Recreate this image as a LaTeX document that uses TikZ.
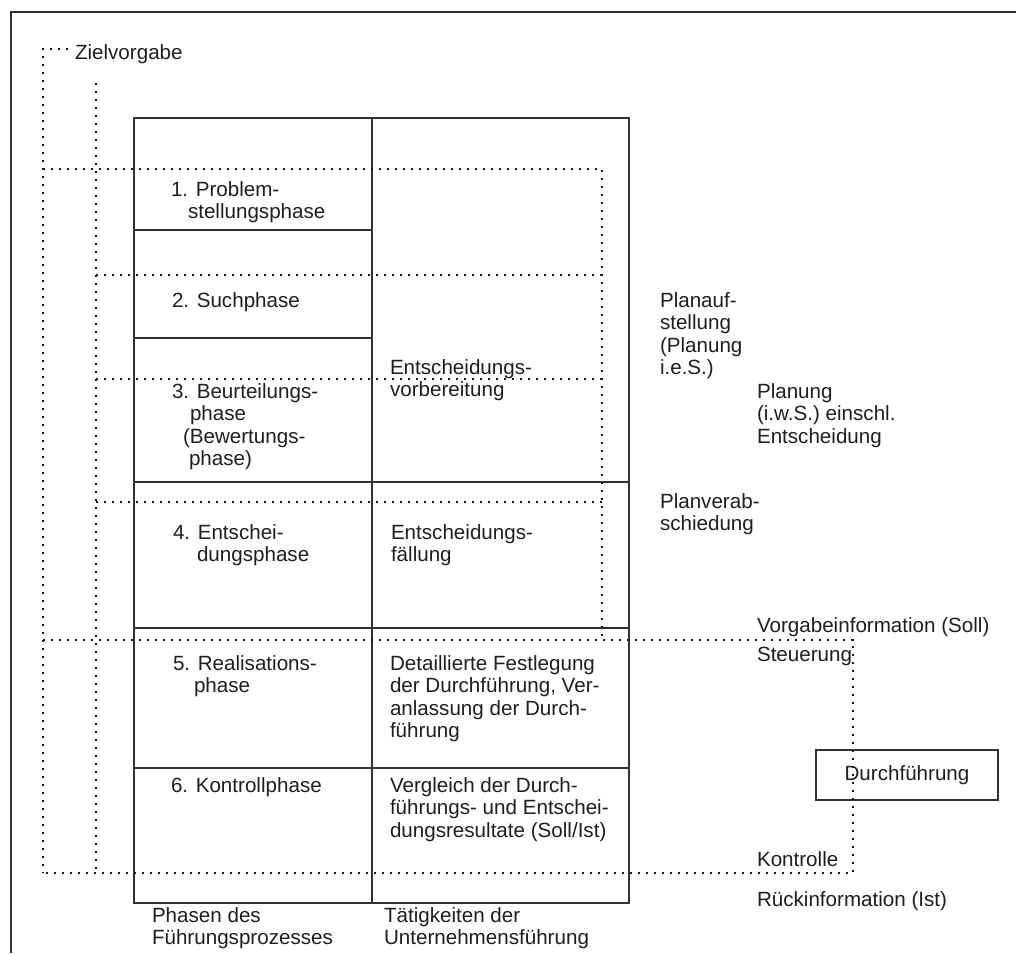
\documentclass[tikz,border=0pt]{standalone}
\usepackage{fontspec}
\setmainfont{Liberation Sans}
\newcommand\txtblock[1]{\begin{tabular}[t]{@{}l@{}}#1\end{tabular}}
\begin{document}
\begin{tikzpicture}[x=1pt,y=-1pt,
  framel/.style={line width=1.6pt, draw=black!80},
  gridl/.style={line width=1.5pt, draw=black!80},
  dots/.style={line width=2.1pt, dash pattern=on 2.1pt off 5.9pt, draw=black!90},
  txt/.style={anchor=base west, inner sep=0pt, outer sep=0pt,
    font=\fontsize{20.6pt}{22.5pt}\selectfont, text=black!88},
  boxn/.style={draw=black!80, line width=1.5pt, minimum width=182pt, minimum height=50pt,
    inner sep=0pt, font=\fontsize{20.6pt}{22.5pt}\selectfont, text=black!88}
]
\useasboundingbox (0,0) rectangle (1016,953);
\fill[white] (0,0) rectangle (1016,953);
% outer frame
\draw[framel] (11,953) -- (11,12) -- (1016,12);
% table
\draw[gridl] (134,118) rectangle (629,903);
\draw[gridl] (372,118) -- (372,903);
\draw[gridl] (134,230) -- (372,230);
\draw[gridl] (134,338) -- (372,338);
\draw[gridl] (134,482) -- (629,482);
\draw[gridl] (134,628) -- (629,628);
\draw[gridl] (134,768) -- (629,768);
% Durchfuehrung box
\node[boxn] (df) at (907,775) {Durchführung};
% dotted lines
\draw[dots] (68,49) -- (43,49) -- (43,873);
\draw[dots] (96,83) -- (96,873);
\draw[dots] (43,169) -- (602,169) -- (602,640);
\draw[dots] (96,275) -- (602,275);
\draw[dots] (96,379) -- (602,379);
\draw[dots] (96,502) -- (602,502);
\draw[dots] (43,640) -- (853,640) -- (853,873) -- (43,873);
% texts
\node[txt] (zv) at (75,59) {Zielvorgabe};
\node[txt] (p1) at (171,196) {\txtblock{1. Problem-\\\hspace*{17pt}stellungsphase}};
\node[txt] (p2) at (172,307) {2. Suchphase};
\node[txt] (p3) at (172,398) {\txtblock{3. Beurteilungs-\\\hspace*{18pt}phase\\\hspace*{11pt}(Bewertungs-\\\hspace*{17pt}phase)}};
\node[txt] (ev) at (390,374) {\txtblock{Entscheidungs-\\vorbereitung}};
\node[txt] (p4) at (173,539) {\txtblock{4. Entschei-\\\hspace*{24pt}dungsphase}};
\node[txt] (ef) at (391,539) {\txtblock{Entscheidungs-\\fällung}};
\node[txt] (p5) at (173,670) {\txtblock{5. Realisations-\\\hspace*{21pt}phase}};
\node[txt] (dd) at (390,670) {\txtblock{Detaillierte Festlegung\\der Durchführung, Ver-\\anlassung der Durch-\\führung}};
\node[txt] (p6) at (171,792) {6. Kontrollphase};
\node[txt] (vg) at (390,792) {\txtblock{Vergleich der Durch-\\führungs- und Entschei-\\dungsresultate (Soll/Ist)}};
\node[txt] (ph) at (152,922) {\txtblock{Phasen des\\Führungsprozesses}};
\node[txt] (tu) at (384,922) {\txtblock{Tätigkeiten der\\Unternehmensführung}};
\node[txt] (pa) at (660,307) {\txtblock{Planauf-\\stellung\\(Planung\\i.e.S.)}};
\node[txt] (pl) at (757,398) {\txtblock{Planung\\(i.w.S.) einschl.\\Entscheidung}};
\node[txt] (pv) at (660,508) {\txtblock{Planverab-\\schiedung}};
\node[txt] (vi) at (757,632) {Vorgabeinformation (Soll)};
\node[txt] (st) at (757,661) {Steuerung};
\node[txt] (ko) at (757,866) {Kontrolle};
\node[txt] (ri) at (757,906) {Rückinformation (Ist)};
\end{tikzpicture}
\end{document}
